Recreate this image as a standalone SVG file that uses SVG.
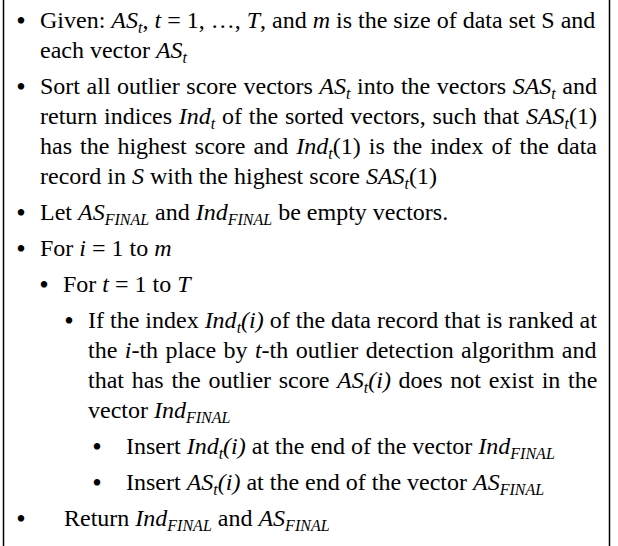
<svg xmlns="http://www.w3.org/2000/svg" width="618" height="546" viewBox="0 0 618 546">
<style>
.t{font-family:"Liberation Serif","Times New Roman",serif;font-size:24px;fill:#000}
.i{font-style:italic}
.s{font-style:italic;font-size:16px}
.b{font-family:"Liberation Serif","Times New Roman",serif;font-size:27px;fill:#000;text-anchor:middle}
</style>
<rect width="618" height="546" fill="#fff"/>
<g id="frame" stroke="#000" stroke-width="1.5">
<line x1="3.5" y1="0" x2="3.5" y2="546"/>
<line x1="609.5" y1="0" x2="609.5" y2="546"/>
</g>
<g id="item1">
<text class="b" x="21" y="30">•</text>
<text class="t" x="40" y="28">Given: <tspan class="i">AS</tspan><tspan class="s" dy="5">t</tspan><tspan dy="-5">, </tspan><tspan class="i">t</tspan> = 1, …, <tspan class="i">T</tspan>, and <tspan class="i">m</tspan> is the size of data set S and</text>
<text class="t" x="40" y="58">each vector <tspan class="i">AS</tspan><tspan class="s" dy="5">t</tspan></text>
</g>
<g id="item2">
<text class="b" x="21" y="96">•</text>
<text class="t" x="40" y="94" style="word-spacing:0.55px">Sort all outlier score vectors <tspan class="i">AS</tspan><tspan class="s" dy="5">t</tspan><tspan dy="-5"> into the vectors </tspan><tspan class="i">SAS</tspan><tspan class="s" dy="5">t</tspan><tspan dy="-5"> and</tspan></text>
<text class="t" x="40" y="124" style="word-spacing:0.77px">return indices <tspan class="i">Ind</tspan><tspan class="s" dy="5">t</tspan><tspan dy="-5"> of the sorted vectors, such that </tspan><tspan class="i">SAS</tspan><tspan class="s" dy="5">t</tspan><tspan dy="-5">(1)</tspan></text>
<text class="t" x="40" y="154" style="word-spacing:2.06px">has the highest score and <tspan class="i">Ind</tspan><tspan class="s" dy="5">t</tspan><tspan dy="-5">(1) is the index of the data</tspan></text>
<text class="t" x="40" y="184">record in <tspan class="i">S</tspan> with the highest score <tspan class="i">SAS</tspan><tspan class="s" dy="5">t</tspan><tspan dy="-5">(1)</tspan></text>
</g>
<g id="item3">
<text class="b" x="21" y="222">•</text>
<text class="t" x="40" y="220">Let <tspan class="i">AS</tspan><tspan class="s" dy="5">FINAL</tspan><tspan dy="-5"> and </tspan><tspan class="i">Ind</tspan><tspan class="s" dy="5">FINAL</tspan><tspan dy="-5"> be empty vectors.</tspan></text>
</g>
<g id="item4">
<text class="b" x="21" y="258">•</text>
<text class="t" x="40" y="256">For <tspan class="i">i</tspan> = 1 to <tspan class="i">m</tspan></text>
</g>
<g id="item5">
<text class="b" x="44" y="294">•</text>
<text class="t" x="63" y="292">For <tspan class="i">t</tspan> = 1 to <tspan class="i">T</tspan></text>
</g>
<g id="item6">
<text class="b" x="69" y="330">•</text>
<text class="t" x="88" y="328">If the index <tspan class="i">Ind</tspan><tspan class="s" dy="5">t</tspan><tspan class="i" dy="-5">(i)</tspan> of the data record that is ranked at</text>
<text class="t" x="88" y="358" style="word-spacing:1.4px">the <tspan class="i">i</tspan>-th place by <tspan class="i">t</tspan>-th outlier detection algorithm and</text>
<text class="t" x="88" y="388" style="word-spacing:1.7px">that has the outlier score <tspan class="i">AS</tspan><tspan class="s" dy="5">t</tspan><tspan class="i" dy="-5">(i)</tspan> does not exist in the</text>
<text class="t" x="88" y="418">vector <tspan class="i">Ind</tspan><tspan class="s" dy="5">FINAL</tspan></text>
</g>
<g id="item7">
<text class="b" x="97" y="456">•</text>
<text class="t" x="126" y="454">Insert <tspan class="i">Ind</tspan><tspan class="s" dy="5">t</tspan><tspan class="i" dy="-5">(i)</tspan> at the end of the vector <tspan class="i">Ind</tspan><tspan class="s" dy="5">FINAL</tspan></text>
</g>
<g id="item8">
<text class="b" x="97" y="492">•</text>
<text class="t" x="126" y="490">Insert <tspan class="i">AS</tspan><tspan class="s" dy="5">t</tspan><tspan class="i" dy="-5">(i)</tspan> at the end of the vector <tspan class="i">AS</tspan><tspan class="s" dy="5">FINAL</tspan></text>
</g>
<g id="item9">
<text class="b" x="21" y="528">•</text>
<text class="t" x="64" y="526">Return <tspan class="i">Ind</tspan><tspan class="s" dy="5">FINAL</tspan><tspan dy="-5"> and </tspan><tspan class="i">AS</tspan><tspan class="s" dy="5">FINAL</tspan></text>
</g>
<g id="connectors"></g>
</svg>
